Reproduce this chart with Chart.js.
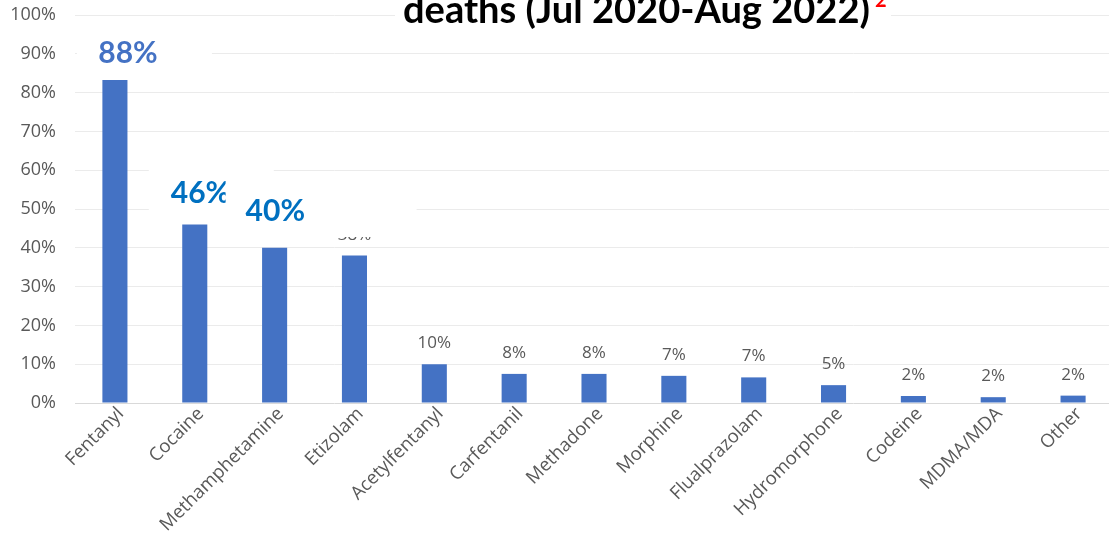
<!DOCTYPE html>
<html><head><meta charset="utf-8">
<script src="https://cdn.jsdelivr.net/npm/chart.js@4.4.1/dist/chart.umd.min.js"></script>
<style>
html,body{margin:0;padding:0;background:#fff;overflow:hidden;width:1109px;height:545px}
#wrap{position:relative;width:1113px;height:545px}
</style></head>
<body><div id="wrap"><canvas id="c"></canvas></div>
<script>
const categories = ["Fentanyl","Cocaine","Methamphetamine","Etizolam","Acetylfentanyl","Carfentanil","Methadone","Morphine","Flualprazolam","Hydromorphone","Codeine","MDMA/MDA","Other"];
const values = [88,46,40,38,10,7.5,7.5,7,6.6,4.6,1.8,1.5,1.9];
const valueLabels = ["88%","46%","40%","38%","10%","8%","8%","7%","7%","5%","2%","2%","2%"];
const yTickValues = [0,10,20,30,40,50,60,70,80,90,100];
const yTickLabels = ["0%","10%","20%","30%","40%","50%","60%","70%","80%","90%","100%"];
const titleText = "deaths (Jul 2020-Aug 2022)";
const titleNote = "2";
const highlighted = [0,1,2];

const BAR = "#4472C4";
const GREY = "#595959";

const dataLabelPlugin = {
  id: "dataLabels",
  afterDatasetsDraw(chart) {
    const ctx = chart.ctx;
    const meta = chart.getDatasetMeta(0);
    ctx.save();
    ctx.font = "17px 'Open Sans'";
    ctx.fillStyle = GREY;
    ctx.textAlign = "center";
    ctx.textBaseline = "alphabetic";
    meta.data.forEach((bar, i) => {
      ctx.fillText(valueLabels[i], bar.x, bar.y - 16);
    });
    ctx.restore();
  }
};

const overlayPlugin = {
  id: "overlays",
  afterDraw(chart) {
    const ctx = chart.ctx;
    const meta = chart.getDatasetMeta(0);
    const b = meta.data;
    ctx.save();
    const boxes = [
      {i: highlighted[0], x0: b[0].x - 38, x1: b[0].x + 97, y0: 22, y1: 80, tx: b[0].x + 13, ty: 63, color: "#4472C4", align: "center"},
      {i: highlighted[1], x0: b[1].x - 46, x1: b[1].x + 79, y0: 163, y1: 222, tx: b[1].x - 24, ty: 203, color: "#0070C0", align: "left"},
      {i: highlighted[2], x0: b[2].x - 49, x1: b[2].x + 142, y0: 176, y1: 237, tx: b[2].x - 29, ty: 221, color: "#0070C0", align: "left"}
    ];
    boxes.forEach(bx => {
      ctx.fillStyle = "#ffffff";
      ctx.fillRect(bx.x0, bx.y0, bx.x1 - bx.x0, bx.y1 - bx.y0);
      ctx.font = "bold 30px Lato";
      ctx.fillStyle = bx.color;
      ctx.textAlign = bx.align;
      ctx.textBaseline = "alphabetic";
      ctx.fillText(valueLabels[bx.i], bx.tx, bx.ty);
    });
    ctx.fillStyle = "#ffffff";
    ctx.fillRect(395, 0, 496, 40);
    ctx.font = "bold 100px Lato";
    const w100 = ctx.measureText(titleText).width;
    const fs = 100 * 467 / w100;
    ctx.font = "bold " + fs.toFixed(2) + "px Lato";
    ctx.fillStyle = "#000000";
    ctx.textAlign = "left";
    ctx.fillText(titleText, 403, 23);
    const tw = ctx.measureText(titleText).width;
    ctx.font = "bold 20px Lato";
    ctx.fillStyle = "#FF0000";
    ctx.fillText(titleNote, 403 + tw + 5, 7);
    ctx.restore();
  }
};

new Chart(document.getElementById("c"), {
  type: "bar",
  data: {
    labels: categories,
    datasets: [{
      data: values,
      backgroundColor: BAR,
      borderWidth: 0,
      categoryPercentage: 1,
      barPercentage: 0.314
    }]
  },
  options: {
    responsive: true,
    maintainAspectRatio: false,
    animation: false,
    devicePixelRatio: 1,
    layout: {padding: {top: 15, left: 0, right: 0, bottom: 0}},
    plugins: {legend: {display: false}, tooltip: {enabled: false}, title: {display: false}},
    scales: {
      y: {
        min: 0, max: 100,
        afterBuildTicks(s) { s.ticks = yTickValues.map(v => ({value: v})); },
        ticks: {
          callback: (v) => yTickLabels[yTickValues.indexOf(v)],
          font: {family: "'Open Sans'", size: 18},
          color: GREY,
          padding: 19
        },
        grid: {color: (c) => c.tick && c.tick.value === 0 ? "#d9d9d9" : "#ebebeb", drawTicks: false, lineWidth: 1},
        border: {display: false},
        afterFit(s) { s.width = 75; s.paddingTop = 0; s.paddingBottom = 0; }
      },
      x: {
        grid: {display: false, drawTicks: false},
        border: {display: false},
        ticks: {
          minRotation: 45, maxRotation: 45,
          font: {family: "'Open Sans'", size: 18.5},
          color: GREY,
          padding: 0,
          labelOffset: 6,
          autoSkip: false
        },
        afterFit(s) { s.height = 142; s.paddingLeft = 0; s.paddingRight = 0; }
      }
    }
  },
  plugins: [dataLabelPlugin, overlayPlugin]
});
</script>
</body></html>
